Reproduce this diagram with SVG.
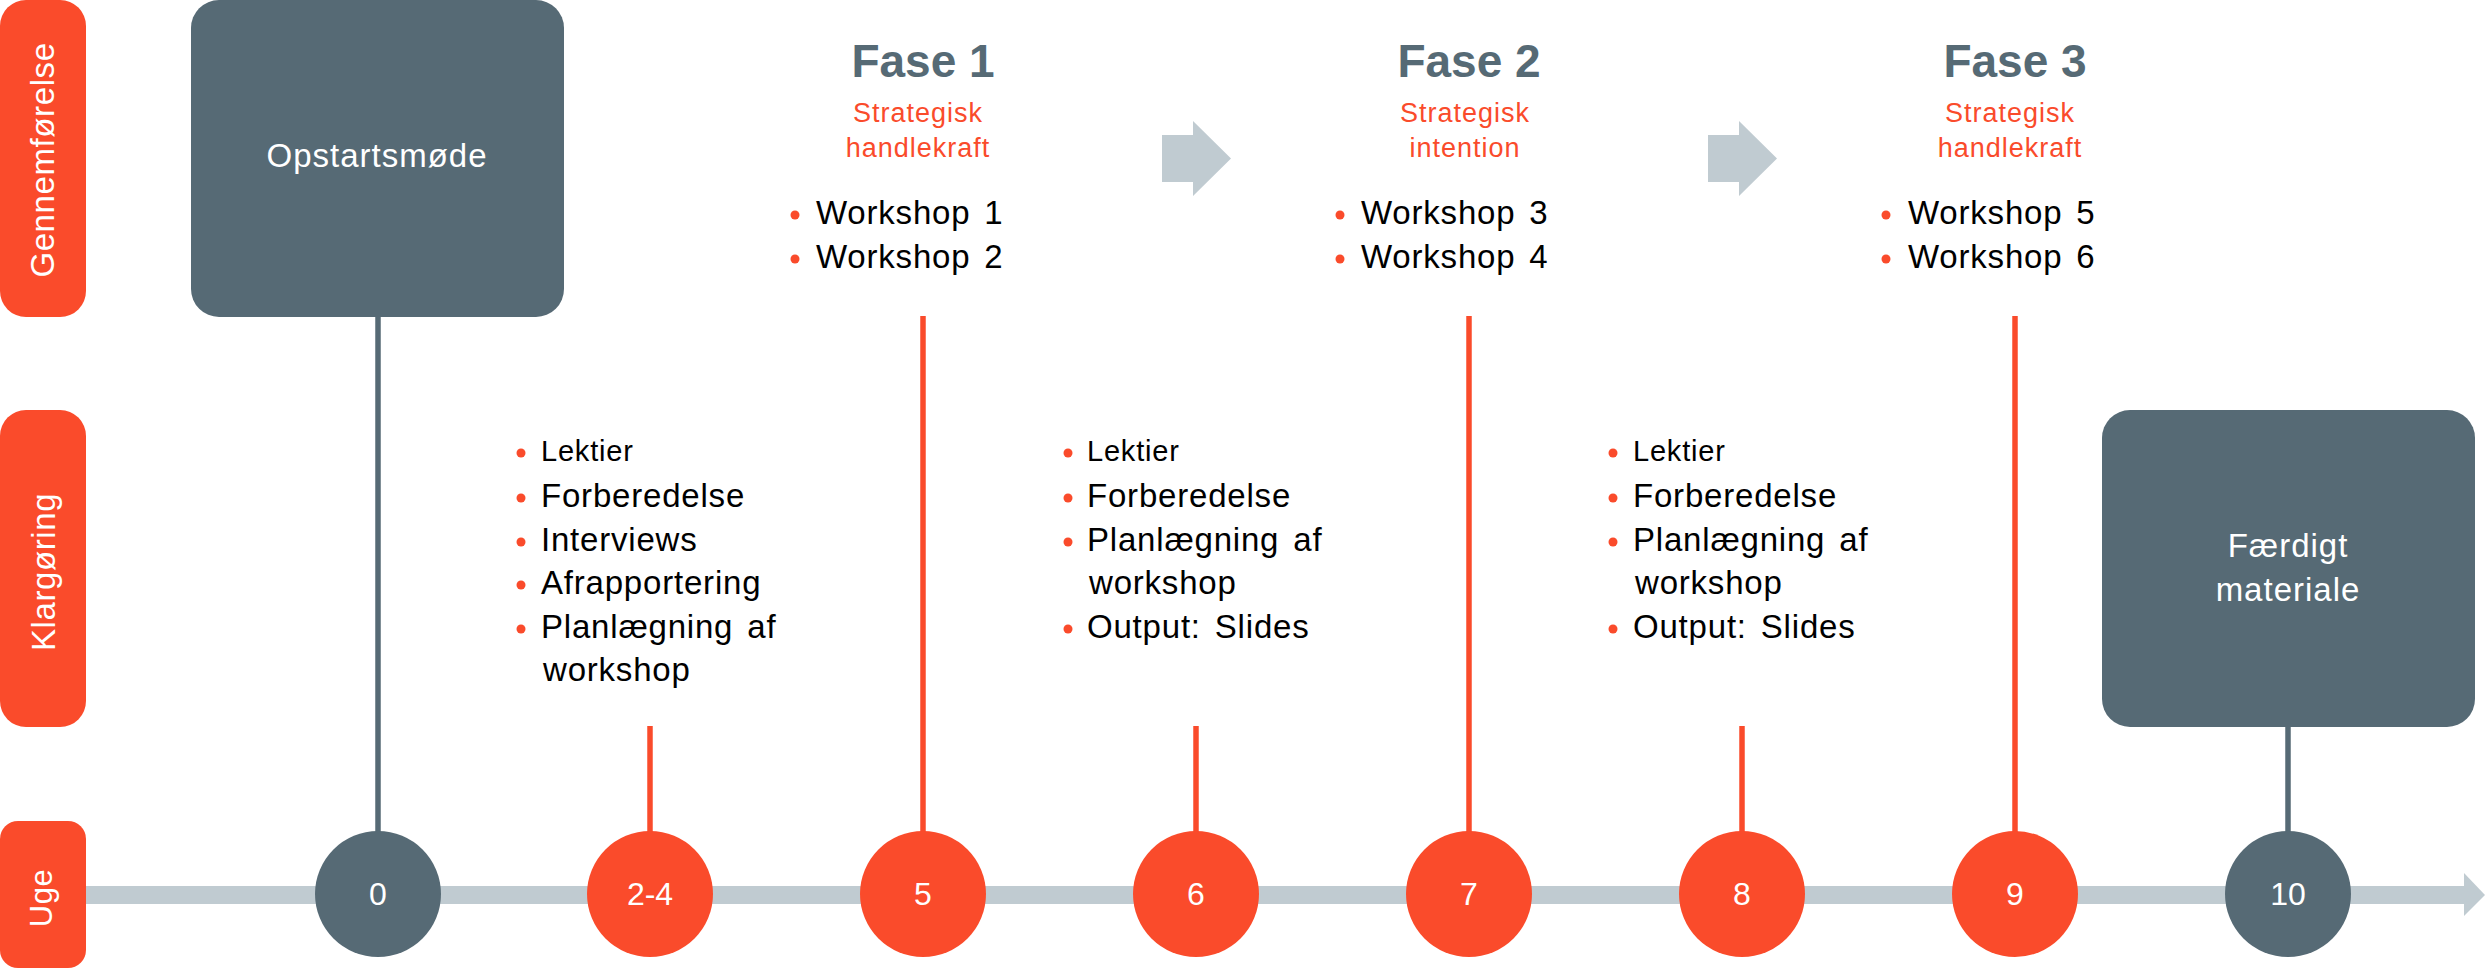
<svg xmlns="http://www.w3.org/2000/svg" width="2486" height="970" viewBox="0 0 2486 970">
<style>
.or{fill:#FA4B2B}
.sl{fill:#566A75}
.lg{fill:#C0CBD1}
text{font-family:'Liberation Sans',Arial,sans-serif}
.side{fill:#fff;font-size:33px;letter-spacing:0.6px;text-anchor:middle}
.boxt{fill:#fff;font-size:33px;letter-spacing:1px;text-anchor:middle}
.num{fill:#fff;font-size:32px;text-anchor:middle}
.ttl{fill:#566A75;font-size:46px;font-weight:bold;text-anchor:middle}
.sub{fill:#FA4B2B;font-size:27px;letter-spacing:1px;text-anchor:middle}
.item{fill:#000;font-size:33px;letter-spacing:0.8px;word-spacing:4px}
.sm{font-size:29px}
.ln{stroke-width:5.5;fill:none}
.lo{stroke:#FA4B2B}
.ls{stroke:#566A75}
</style>

<g id="connectors">
  <rect class="lg" x="85" y="886" width="2380" height="18"/>
  <polygon class="lg" points="2464,873 2485,895 2464,916"/>
  <polygon class="lg" points="1162,135 1193,135 1193,121 1231,158.5 1193,196 1193,182 1162,182"/>
  <polygon class="lg" points="1708,135 1739,135 1739,121 1777,158.5 1739,196 1739,182 1708,182"/>
  <line class="ln ls" x1="378" y1="317" x2="378" y2="832"/>
  <line class="ln lo" x1="650" y1="726" x2="650" y2="832"/>
  <line class="ln lo" x1="923" y1="316" x2="923" y2="832"/>
  <line class="ln lo" x1="1196" y1="726" x2="1196" y2="832"/>
  <line class="ln lo" x1="1469" y1="316" x2="1469" y2="832"/>
  <line class="ln lo" x1="1742" y1="726" x2="1742" y2="832"/>
  <line class="ln lo" x1="2015" y1="316" x2="2015" y2="832"/>
  <line class="ln ls" x1="2288" y1="726" x2="2288" y2="832"/>
</g>

<g id="label-gennemforelse">
  <rect class="or" x="0" y="0" width="86" height="317" rx="26"/>
  <text class="side" transform="translate(54,160) rotate(-90)">Gennemførelse</text>
</g>
<g id="label-klargoring">
  <rect class="or" x="0" y="410" width="86" height="317" rx="26"/>
  <text class="side" transform="translate(55,572) rotate(-90)">Klargøring</text>
</g>
<g id="label-uge">
  <rect class="or" x="0" y="821" width="86" height="147" rx="18"/>
  <text class="side" style="font-size:31px" transform="translate(52,898) rotate(-90)">Uge</text>
</g>

<g id="box-opstart">
  <rect class="sl" x="191" y="0" width="373" height="317" rx="28"/>
  <text class="boxt" x="377" y="167">Opstartsmøde</text>
</g>
<g id="box-faerdigt">
  <rect class="sl" x="2102" y="410" width="373" height="317" rx="28"/>
  <text class="boxt" x="2288" y="557">Færdigt</text>
  <text class="boxt" x="2288" y="601">materiale</text>
</g>

<g id="fase1">
  <text class="ttl" x="923" y="77">Fase 1</text>
  <text class="sub" x="918" y="122">Strategisk</text>
  <text class="sub" x="918" y="157">handlekraft</text>
  <circle class="or" cx="795" cy="215" r="4.5"/>
  <text class="item" x="816" y="224">Workshop 1</text>
  <circle class="or" cx="795" cy="259" r="4.5"/>
  <text class="item" x="816" y="268">Workshop 2</text>
</g>
<g id="fase2">
  <text class="ttl" x="1469" y="77">Fase 2</text>
  <text class="sub" x="1465" y="122">Strategisk</text>
  <text class="sub" x="1465" y="157">intention</text>
  <circle class="or" cx="1340" cy="215" r="4.5"/>
  <text class="item" x="1361" y="224">Workshop 3</text>
  <circle class="or" cx="1340" cy="259" r="4.5"/>
  <text class="item" x="1361" y="268">Workshop 4</text>
</g>
<g id="fase3">
  <text class="ttl" x="2015" y="77">Fase 3</text>
  <text class="sub" x="2010" y="122">Strategisk</text>
  <text class="sub" x="2010" y="157">handlekraft</text>
  <circle class="or" cx="1886" cy="215" r="4.5"/>
  <text class="item" x="1908" y="224">Workshop 5</text>
  <circle class="or" cx="1886" cy="259" r="4.5"/>
  <text class="item" x="1908" y="268">Workshop 6</text>
</g>

<g id="prep-2-4">
  <circle class="or" cx="521" cy="453" r="4.5"/>
  <text class="item sm" x="541" y="461">Lektier</text>
  <circle class="or" cx="521" cy="498" r="4.5"/>
  <text class="item" x="541" y="507">Forberedelse</text>
  <circle class="or" cx="521" cy="542" r="4.5"/>
  <text class="item" x="541" y="551">Interviews</text>
  <circle class="or" cx="521" cy="585" r="4.5"/>
  <text class="item" x="541" y="594">Afrapportering</text>
  <circle class="or" cx="521" cy="629" r="4.5"/>
  <text class="item" x="541" y="638">Planlægning af</text>
  <text class="item" x="543" y="681">workshop</text>
</g>
<g id="prep-6">
  <circle class="or" cx="1068" cy="453" r="4.5"/>
  <text class="item sm" x="1087" y="461">Lektier</text>
  <circle class="or" cx="1068" cy="498" r="4.5"/>
  <text class="item" x="1087" y="507">Forberedelse</text>
  <circle class="or" cx="1068" cy="542" r="4.5"/>
  <text class="item" x="1087" y="551">Planlægning af</text>
  <text class="item" x="1089" y="594">workshop</text>
  <circle class="or" cx="1068" cy="629" r="4.5"/>
  <text class="item" x="1087" y="638">Output: Slides</text>
</g>
<g id="prep-8">
  <circle class="or" cx="1613" cy="453" r="4.5"/>
  <text class="item sm" x="1633" y="461">Lektier</text>
  <circle class="or" cx="1613" cy="498" r="4.5"/>
  <text class="item" x="1633" y="507">Forberedelse</text>
  <circle class="or" cx="1613" cy="542" r="4.5"/>
  <text class="item" x="1633" y="551">Planlægning af</text>
  <text class="item" x="1635" y="594">workshop</text>
  <circle class="or" cx="1613" cy="629" r="4.5"/>
  <text class="item" x="1633" y="638">Output: Slides</text>
</g>

<g id="week-0"><circle class="sl" cx="378" cy="894" r="63"/><text class="num" x="378" y="905">0</text></g>
<g id="week-2-4"><circle class="or" cx="650" cy="894" r="63"/><text class="num" x="650" y="905">2-4</text></g>
<g id="week-5"><circle class="or" cx="923" cy="894" r="63"/><text class="num" x="923" y="905">5</text></g>
<g id="week-6"><circle class="or" cx="1196" cy="894" r="63"/><text class="num" x="1196" y="905">6</text></g>
<g id="week-7"><circle class="or" cx="1469" cy="894" r="63"/><text class="num" x="1469" y="905">7</text></g>
<g id="week-8"><circle class="or" cx="1742" cy="894" r="63"/><text class="num" x="1742" y="905">8</text></g>
<g id="week-9"><circle class="or" cx="2015" cy="894" r="63"/><text class="num" x="2015" y="905">9</text></g>
<g id="week-10"><circle class="sl" cx="2288" cy="894" r="63"/><text class="num" x="2288" y="905">10</text></g>
</svg>
